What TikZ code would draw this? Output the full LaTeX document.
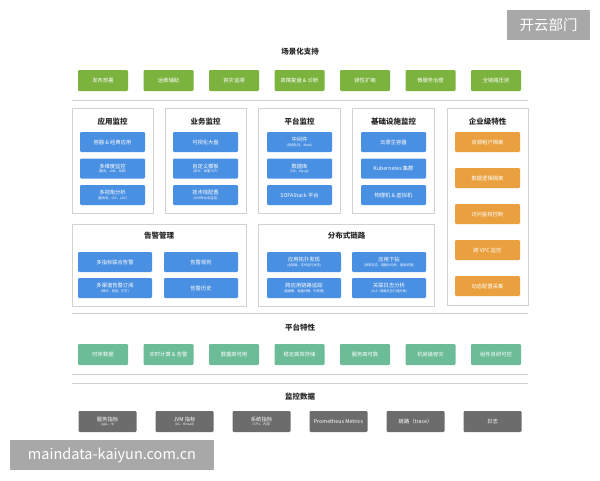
\documentclass[tikz,border=0pt]{standalone}
\usepackage{fontspec}
\setmainfont{Noto Sans CJK SC}
\usetikzlibrary{positioning}

\definecolor{scenegreen}{RGB}{124,178,62}
\definecolor{monblue}{RGB}{74,144,226}
\definecolor{entorange}{RGB}{234,160,62}
\definecolor{platteal}{RGB}{108,188,152}
\definecolor{datagray}{RGB}{108,108,108}
\definecolor{panelgray}{RGB}{210,210,210}
\definecolor{markgray}{RGB}{168,168,168}

\newcommand{\boxnote}[1]{\\[-1.5pt]{\fontsize{3.2}{4}\selectfont #1}}

\begin{document}
\begin{tikzpicture}[x=1pt, y=-1pt, node distance=15.5pt,
    box/.style={rectangle, rounded corners=1.2pt, text=white, inner sep=0pt, outer sep=0pt, align=center, font=\fontsize{5.3}{6.2}\selectfont},
    scenebox/.style={box, fill=scenegreen, minimum width=50pt, minimum height=21pt},
    monbox/.style={box, fill=monblue, minimum width=65pt, minimum height=20pt},
    widebox/.style={box, fill=monblue, minimum width=74pt, minimum height=20pt},
    entbox/.style={box, fill=entorange, minimum width=65pt, minimum height=20pt},
    platbox/.style={box, fill=platteal, minimum width=50pt, minimum height=21pt},
    databox/.style={box, fill=datagray, minimum width=58pt, minimum height=21pt},
    panel/.style={rectangle, draw=panelgray, fill=white, line width=0.7pt, inner sep=0pt, outer sep=0pt},
    title/.style={font=\bfseries\fontsize{7.5}{8.5}\selectfont, text=black!85},
    sepline/.style={draw=panelgray, line width=0.7pt},
    wmark/.style={rectangle, fill=markgray, text=white, inner sep=0pt, font=\fontsize{14.5}{16}\selectfont}]
    \useasboundingbox[fill=white] (0,0) rectangle (600,480);

    %場景化支持
    \node (sceneTitle) [title] at (300,52) {场景化支持};
    \node (s1) [scenebox] at (103,80.5) {发布部署};
    \node (s2) [scenebox, right=of s1] {运维辅助};
    \node (s3) [scenebox, right=of s2] {容灾追溯};
    \node (s4) [scenebox, right=of s3] {故障复盘 \& 诊断};
    \node (s5) [scenebox, right=of s4] {弹性扩缩};
    \node (s6) [scenebox, right=of s5] {微服务治理};
    \node (s7) [scenebox, right=of s6] {全链路压测};
    \draw[sepline] (72,100) -- (528,100);

    % Paneles de monitorización
    \node (appPanel) [panel, minimum width=81pt, minimum height=105pt] at (112.5,160.5) {};
    \node (bizPanel) [panel, minimum width=81pt, minimum height=105pt] at (205.5,160.5) {};
    \node (platPanel) [panel, minimum width=82pt, minimum height=105pt] at (299.5,160.5) {};
    \node (infraPanel) [panel, minimum width=82pt, minimum height=105pt] at (393.5,160.5) {};
    \node (entPanel) [panel, minimum width=81pt, minimum height=197pt] at (487.5,206.5) {};
    \node (alarmPanel) [panel, minimum width=174pt, minimum height=82pt] at (159,265) {};
    \node (tracePanel) [panel, minimum width=176pt, minimum height=82pt] at (346.5,265) {};

    % 应用监控
    \node (appTitle) [title] at (112.5,122) {应用监控};
    \node (a1) [monbox] at (112.5,142) {容器 \& 经典应用};
    \node (a2) [monbox, below=6.5pt of a1] {多维度监控\boxnote{(服务、JVM、系统)}};
    \node (a3) [monbox, below=6.5pt of a2] {多视角分析\boxnote{(服务机、IDC、LDC)}};

    % 业务监控
    \node (bizTitle) [title] at (205.5,122) {业务监控};
    \node (b1) [monbox] at (205.5,142) {可视化大盘};
    \node (b2) [monbox, below=6.5pt of b1] {自定义模板\boxnote{(统计、单量TOP)}};
    \node (b3) [monbox, below=6.5pt of b2] {技术栈配置\boxnote{(中间件业务监控)}};

    % 平台监控
    \node (platTitle) [title] at (299.5,122) {平台监控};
    \node (m1) [monbox] at (299.5,142) {中间件\boxnote{(消息队列、Mesh)}};
    \node (m2) [monbox, below=6.5pt of m1] {数据库\boxnote{(OB、Mysql)}};
    \node (m3) [monbox, below=6.5pt of m2] {SOFAStack 平台};

    % 基础设施监控
    \node (infraTitle) [title] at (393.5,122) {基础设施监控};
    \node (i1) [monbox] at (393.5,142) {云原生容器};
    \node (i2) [monbox, below=6.5pt of i1] {Kubernetes 集群};
    \node (i3) [monbox, below=6.5pt of i2] {物理机 \& 虚拟机};

    % 企业级特性
    \node (entTitle) [title] at (487.5,122) {企业级特性};
    \node (o1) [entbox] at (487.5,142) {资源租户隔离};
    \node (o2) [entbox, below=16pt of o1] {数据逻辑隔离};
    \node (o3) [entbox, below=16pt of o2] {访问鉴权控制};
    \node (o4) [entbox, below=16pt of o3] {跨 VPC 监控};
    \node (o5) [entbox, below=16pt of o4] {动态配置采集};

    % 告警管理
    \node (alarmTitle) [title] at (159,236) {告警管理};
    \node (c1) [widebox] at (115,262) {多指标联合告警};
    \node (c2) [widebox, below=6pt of c1] {多渠道告警订阅\boxnote{(邮件、短信、钉钉)}};
    \node (c3) [widebox] at (201,262) {告警规则};
    \node (c4) [widebox, below=6pt of c3] {告警历史};

    % 分布式链路
    \node (traceTitle) [title] at (346.5,236) {分布式链路};
    \node (t1) [widebox] at (304,262) {应用拓扑发现\boxnote{(全链路、实时运行状态)}};
    \node (t2) [widebox, below=6pt of t1] {跨应用链路追踪\boxnote{(链路图、链路详情、时序图)}};
    \node (t3) [widebox] at (389,262) {应用下钻\boxnote{(异常日志、链路中间件、基础资源)}};
    \node (t4) [widebox, below=6pt of t3] {关联日志分析\boxnote{(SLS / 链路日志打通方案)}};
    \draw[sepline] (72,313) -- (528,313);

    % 平台特性
    \node (platFeatTitle) [title] at (300,328) {平台特性};
    \node (p1) [platbox] at (103,354.5) {时序数据};
    \node (p2) [platbox, right=of p1] {实时计算 \& 告警};
    \node (p3) [platbox, right=of p2] {数据高可用};
    \node (p4) [platbox, right=of p3] {稳定高效存储};
    \node (p5) [platbox, right=of p4] {服务高可靠};
    \node (p6) [platbox, right=of p5] {机房级容灾};
    \node (p7) [platbox, right=of p6] {组件自研可控};
    \draw[sepline] (72,374) -- (528,374);
    \draw[sepline] (72,383) -- (528,383);

    % 监控数据
    \node (dataTitle) [title] at (300,397) {监控数据};
    \node (d1) [databox] at (107.5,421.5) {服务指标\boxnote{(qps、rt)}};
    \node (d2) [databox, right=19pt of d1] {JVM 指标\boxnote{(GC、thread)}};
    \node (d3) [databox, right=19pt of d2] {系统指标\boxnote{(CPU、内存)}};
    \node (d4) [databox, right=19pt of d3] {Prometheus Metrics};
    \node (d5) [databox, right=19pt of d4] {链路（trace）};
    \node (d6) [databox, right=19pt of d5] {日志};

    % Marcas de agua
    \node (wmTop) [wmark, minimum width=83pt, minimum height=30pt] at (548.5,25) {开云部门};
    \node (wmBottom) [wmark, minimum width=204pt, minimum height=30pt] at (112,455) {maindata-kaiyun.com.cn};
\end{tikzpicture}
\end{document}
